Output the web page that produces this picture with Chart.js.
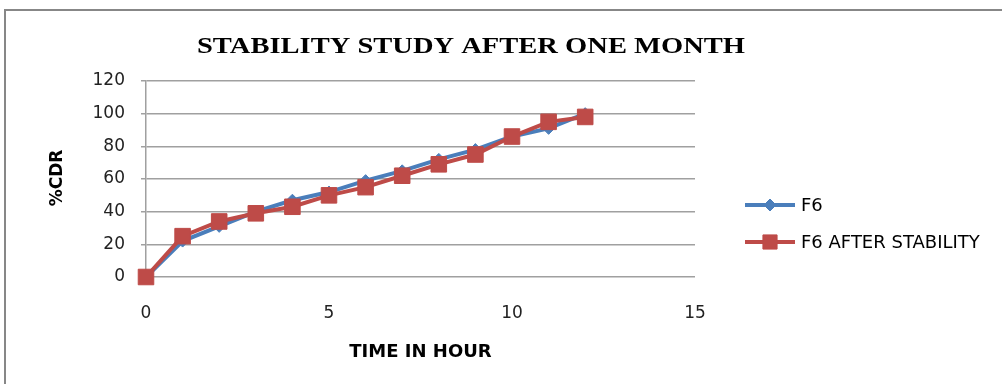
<!DOCTYPE html>
<html>
<head>
<meta charset="utf-8">
<script src="https://cdn.jsdelivr.net/npm/chart.js@4.4.1/dist/chart.umd.min.js"></script>
<style>
  html, body { margin: 0; padding: 0; background: #ffffff; }
  #wrap { width: 1002px; height: 384px; }
</style>
</head>
<body>
<div id="wrap"><canvas id="chart" width="1002" height="384"></canvas></div>
<script>
// Time points (hours) and cumulative drug release (%CDR)
const hours = [0, 1, 2, 3, 4, 5, 6, 7, 8, 9, 10, 11, 12];
const f6 = [0, 22, 31, 40, 47, 52, 59, 65, 72, 78, 86, 91, 100];
const f6AfterStability = [0, 25, 34, 39, 43, 50, 55, 62, 69, 75, 86, 95, 98];
const xTicks = [0, 5, 10, 15];
const yTicks = [0, 20, 40, 60, 80, 100, 120];

const chartTitle = 'STABILITY STUDY AFTER ONE MONTH';
const xTitle = 'TIME IN HOUR';
const yTitle = '%CDR';
const seriesNames = ['F6', 'F6 AFTER STABILITY'];

const BLUE = '#4a7ebb';
const RED = '#be4b48';
const SANS = '"DejaVu Sans", sans-serif';

const toPoints = (ys) => hours.map((h, i) => ({ x: h, y: ys[i] }));

// Frame, title, axis titles and legend drawn around the plot area
const decorations = {
  id: 'decorations',
  beforeDraw(chart) {
    const ctx = chart.ctx;
    ctx.save();
    ctx.fillStyle = '#ffffff';
    ctx.fillRect(0, 0, chart.width, chart.height);
    ctx.strokeStyle = '#878787';
    ctx.lineWidth = 2;
    ctx.beginPath();
    ctx.moveTo(5, chart.height);
    ctx.lineTo(5, 10);
    ctx.lineTo(chart.width, 10);
    ctx.stroke();
    ctx.restore();
  },
  afterDraw(chart) {
    const ctx = chart.ctx;
    const area = chart.chartArea;
    ctx.save();
    ctx.fillStyle = '#000000';

    // chart title, widened to span its box
    ctx.save();
    ctx.font = 'bold 23px "Liberation Serif", serif';
    ctx.textAlign = 'left';
    ctx.textBaseline = 'alphabetic';
    const titleWidth = ctx.measureText(chartTitle).width;
    ctx.translate(197, 53);
    ctx.scale(548 / titleWidth, 1);
    ctx.fillText(chartTitle, 0, 0);
    ctx.restore();

    // x axis title
    ctx.font = 'bold 18px ' + SANS;
    ctx.textAlign = 'center';
    ctx.textBaseline = 'middle';
    ctx.fillText(xTitle, (area.left + area.right) / 2, 352);

    // y axis title
    ctx.save();
    ctx.font = 'bold 17px ' + SANS;
    ctx.translate(58, 178);
    ctx.rotate(-Math.PI / 2);
    ctx.fillText(yTitle, 0, 0);
    ctx.restore();

    // legend
    ctx.textAlign = 'left';
    ctx.font = '18px ' + SANS;
    chart.data.datasets.forEach((ds, i) => {
      const y = 205 + i * 37;
      ctx.strokeStyle = ds.borderColor;
      ctx.lineWidth = 4;
      ctx.beginPath();
      ctx.moveTo(745, y);
      ctx.lineTo(795, y);
      ctx.stroke();
      ctx.fillStyle = ds.backgroundColor;
      ctx.lineWidth = 1;
      Chart.helpers.drawPoint(ctx, {
        pointStyle: ds.pointStyle,
        rotation: 0,
        borderWidth: 1,
        radius: ds.legendRadius
      }, 770, y);
      ctx.fillStyle = '#000000';
      ctx.fillText(ds.label, 801, y + 1);
    });
    ctx.restore();
  }
};

new Chart(document.getElementById('chart'), {
  type: 'line',
  data: {
    datasets: [
      {
        label: seriesNames[0],
        data: toPoints(f6),
        order: 1,
        clip: false,
        borderColor: BLUE,
        backgroundColor: BLUE,
        borderWidth: 4,
        pointStyle: 'rectRot',
        pointRadius: 6,
        pointHoverRadius: 6,
        pointBorderWidth: 1,
        legendRadius: 6,
        tension: 0
      },
      {
        label: seriesNames[1],
        data: toPoints(f6AfterStability),
        order: 0,
        clip: false,
        borderColor: RED,
        backgroundColor: RED,
        borderWidth: 4,
        pointStyle: 'rect',
        pointRadius: 11,
        pointHoverRadius: 11,
        pointBorderWidth: 1,
        legendRadius: 10,
        tension: 0
      }
    ]
  },
  options: {
    responsive: false,
    animation: false,
    events: [],
    layout: { padding: { left: 0, right: 307, top: 81, bottom: 0 } },
    plugins: {
      legend: { display: false },
      title: { display: false },
      tooltip: { enabled: false }
    },
    scales: {
      x: {
        type: 'linear',
        min: 0,
        max: 15,
        afterBuildTicks(scale) { scale.ticks = xTicks.map(v => ({ value: v })); },
        afterFit(scale) { scale.height = 384 - 277; },
        grid: { display: false, drawTicks: false },
        border: { display: false },
        ticks: { font: { family: 'DejaVu Sans', size: 17 }, color: '#222222', padding: 26, maxRotation: 0 }
      },
      y: {
        min: 0,
        max: 120,
        afterBuildTicks(scale) { scale.ticks = yTicks.map(v => ({ value: v })); },
        afterFit(scale) { scale.width = 146; },
        grid: { color: '#a0a0a0', lineWidth: 1.5, tickLength: 5, drawTicks: true },
        border: { display: true, color: '#a0a0a0', width: 1.5 },
        ticks: { font: { family: 'DejaVu Sans', size: 17 }, color: '#222222', padding: 16 }
      }
    }
  },
  plugins: [decorations]
});
</script>
</body>
</html>
